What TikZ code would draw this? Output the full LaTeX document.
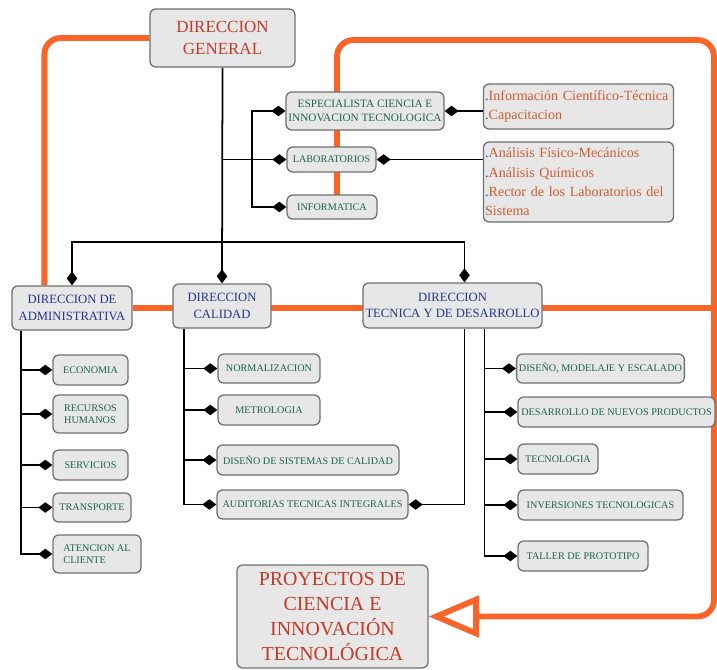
\documentclass[tikz,border=0pt]{standalone}
\usepackage{fontspec}
\setmainfont{Liberation Serif}
\usetikzlibrary{calc,arrows.meta,backgrounds}

\definecolor{boxfill}{RGB}{231,231,231}
\definecolor{boxline}{RGB}{112,112,112}
\definecolor{lineorange}{RGB}{250,100,40}
\definecolor{dgred}{RGB}{196,58,38}
\definecolor{headblue}{RGB}{38,52,140}
\definecolor{unitgreen}{RGB}{28,100,74}
\definecolor{infored}{RGB}{205,92,52}
\definecolor{dotblue}{RGB}{30,60,170}

\tikzset{
	box/.style={draw=boxline, line width=1.1pt, fill=boxfill, rounded corners=5pt, align=center, inner sep=2pt},
	unit/.style={box, text=unitgreen, font=\fontsize{8.7}{10}\selectfont},
	head/.style={box, text=headblue, font=\fontsize{10.8}{14}\selectfont},
	info/.style={box, text=infored, align=left, font=\fontsize{12}{16.5}\selectfont, text width=5.6cm, inner sep=1.5pt},
	link/.style={line width=1.5pt, -{Diamond[length=12pt,width=9pt]}},
	oline/.style={line width=5pt, lineorange, rounded corners=14pt}
}
\newcommand{\bdot}{\textcolor{dotblue}{.}}

\begin{document}
\begin{tikzpicture}[x=0.03cm, y=-0.03cm]
\useasboundingbox (0,0) rectangle (717,670);

\node[box, text=dgred, font=\fontsize{14.5}{18}\selectfont, minimum width=4.35cm, minimum height=1.74cm] (DG) at (222.5,38) {DIRECCION\\GENERAL};

\node[unit, font=\fontsize{9.6}{11.5}\selectfont, minimum width=4.68cm, minimum height=1.14cm] (ESP) at (365,111) {ESPECIALISTA CIENCIA E\\INNOVACION TECNOLOGICA};
\node[unit, minimum width=2.67cm, minimum height=0.75cm] (LAB) at (331.5,159.5) {LABORATORIOS};
\node[unit, minimum width=2.7cm, minimum height=0.72cm] (INF) at (332,207) {INFORMATICA};

\node[info, minimum height=1.35cm] (info1) at (578.5,106.5) {\bdot Información Científico-Técnica\\\bdot Capacitacion};
\node[info, minimum height=2.4cm] (info2) at (578.5,182) {\bdot Análisis Físico-Mecánicos\\\bdot Análisis Químicos\\\bdot Rector de los Laboratorios del\\Sistema};

\node[head, minimum width=3.6cm, minimum height=1.32cm] (ADM) at (72,308) {DIRECCION DE\\ADMINISTRATIVA};
\node[head, minimum width=2.94cm, minimum height=1.32cm] (CAL) at (222,306) {DIRECCION\\CALIDAD};
\node[head, minimum width=5.37cm, minimum height=1.35cm] (TEC) at (452.5,305.5) {DIRECCION\\TECNICA Y DE DESARROLLO};

\node[unit, minimum width=2.25cm, minimum height=0.9cm] (ECO) at (90.5,370) {ECONOMIA};
\node[unit, align=left, minimum width=2.25cm, minimum height=1.14cm] (RRHH) at (90.5,414) {RECURSOS\\HUMANOS};
\node[unit, minimum width=2.25cm, minimum height=0.9cm] (SERV) at (90.5,465) {SERVICIOS};
\node[unit, minimum width=2.34cm, minimum height=0.87cm] (TRANS) at (92,507.5) {TRANSPORTE};
\node[unit, align=left, minimum width=2.64cm, minimum height=1.14cm] (ATEN) at (97,554) {ATENCION AL\\CLIENTE};

\node[unit, minimum width=3.06cm, minimum height=0.87cm] (NORM) at (269,368.5) {NORMALIZACION};
\node[unit, minimum width=3.06cm, minimum height=0.9cm] (METRO) at (269,410) {METROLOGIA};
\node[unit, minimum width=5.46cm, minimum height=0.9cm] (DSC) at (308,460) {DISEÑO DE SISTEMAS DE CALIDAD};
\node[unit, minimum width=5.73cm, minimum height=0.87cm] (AUD) at (312.5,504.5) {AUDITORIAS TECNICAS INTEGRALES};

\node[unit, minimum width=4.95cm, minimum height=0.87cm] (DME) at (600.5,368.5) {DISEÑO, MODELAJE Y ESCALADO};
\node[unit, minimum width=5.91cm, minimum height=0.9cm] (DNP) at (616.5,412) {DESARROLLO DE NUEVOS PRODUCTOS};
\node[unit, minimum width=2.4cm, minimum height=0.9cm] (TECN) at (558,459) {TECNOLOGIA};
\node[unit, minimum width=4.95cm, minimum height=0.9cm] (INV) at (600.5,505) {INVERSIONES TECNOLOGICAS};
\node[unit, minimum width=3.9cm, minimum height=0.9cm] (TALL) at (583,556) {TALLER DE PROTOTIPO};

\node[box, text=dgred, font=\fontsize{17}{21.5}\selectfont, minimum width=5.73cm, minimum height=3.09cm] (PROY) at (332.5,616.5) {PROYECTOS DE\\CIENCIA E\\INNOVACIÓN\\TECNOLÓGICA};

\coordinate (rtop) at (714,40);
\coordinate (bar) at (220,242);
\coordinate (fork) at (252,159.5);
\coordinate (atrunk) at ($(ADM.south west)+(10,0)$);
\coordinate (ctrunk) at ($(CAL.south west)+(12,0)$);
\coordinate (ttrunk) at ($(TEC.south)+(32,0)$);
\coordinate (ttrunkb) at ($(TEC.south)+(12,0)$);

\begin{scope}[on background layer]
% orange lines
\draw[oline] (DG.west) -| ($(ADM.north west)+(33,0)$);
\draw[oline] (ADM.east) -- (ADM.east -| rtop);
\draw[oline, -{Triangle[open, length=43pt, width=35pt, line join=miter]}] ($(INF.center)+(5,0)$) |- (rtop) |- (PROY.east);

% black tree
\draw[link] (DG.south) -- (CAL.north);
\draw[link] (bar) -| (ADM.north);
\draw[link] (bar) -| ($(TEC.north)+(12,0)$);
\draw[link] (DG.south |- LAB.west) -- (LAB.west);
\draw[link] (fork) |- (ESP.west);
\draw[link] (fork) |- (INF.west);
\draw[link] (info1.west |- ESP.east) -- (ESP.east);
\draw[link] (info2.west |- LAB.east) -- (LAB.east);

\foreach \n in {ECO,RRHH,SERV,TRANS,ATEN}
	\draw[link] (atrunk) |- (\n.west);
\foreach \n in {NORM,METRO,DSC,AUD}
	\draw[link] (ctrunk) |- (\n.west);
\foreach \n in {DME,DNP,TECN,INV,TALL}
	\draw[link] (ttrunk) |- (\n.west);
\draw[link] (ttrunkb) |- (AUD.east);
\end{scope}
\end{tikzpicture}
\end{document}
